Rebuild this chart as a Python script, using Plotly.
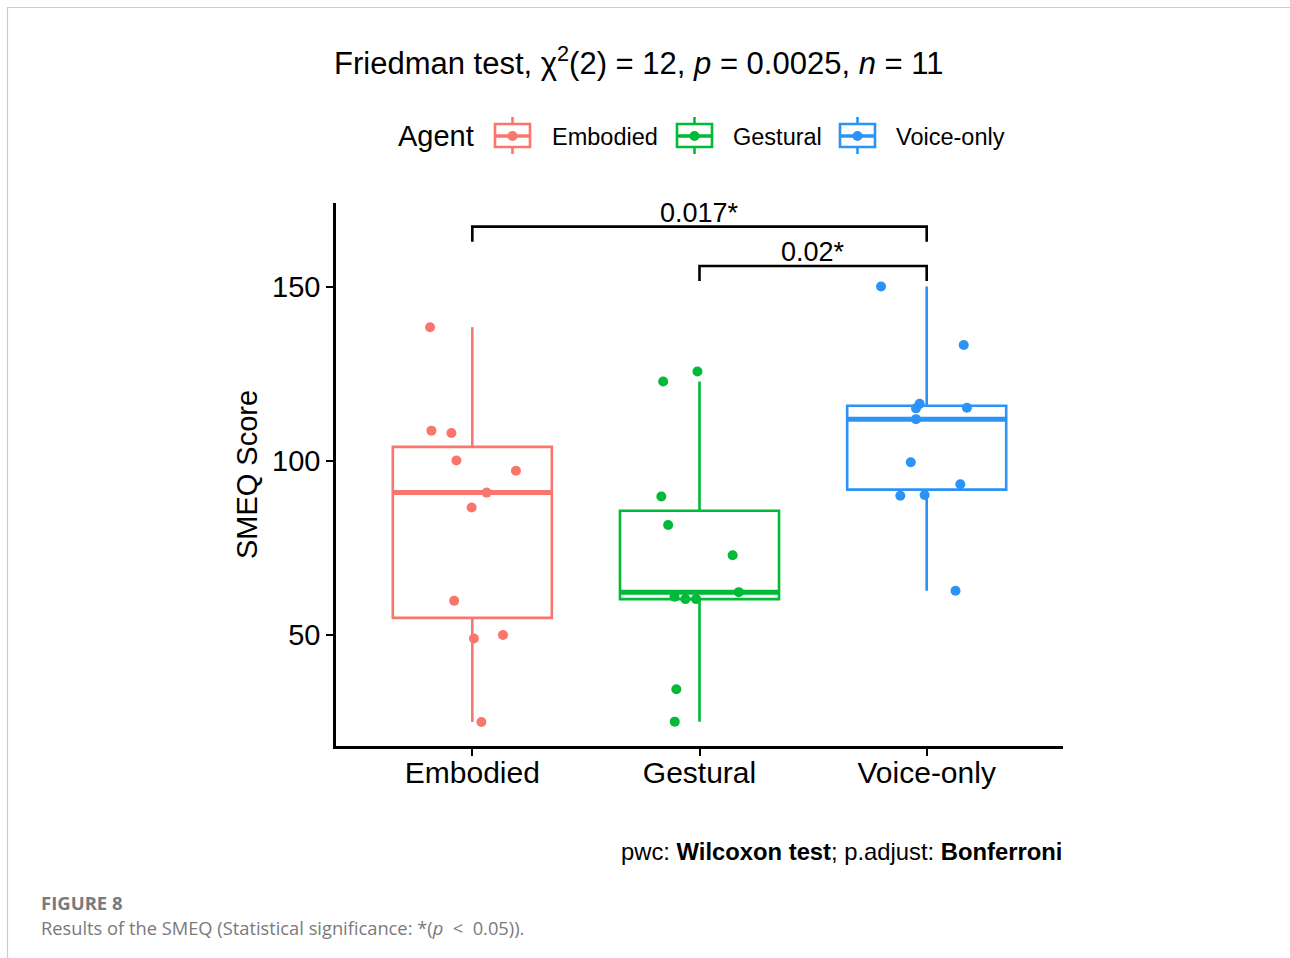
import numpy as np
import plotly.graph_objects as go

# ---------------- data ----------------
categories = ["Embodied", "Gestural", "Voice-only"]
colors = ["#F8766D", "#00BA38", "#2A93F5"]

embodied = [138.4, 108.7, 108.0, 100.1, 97.2, 90.9, 86.6, 59.8, 49.0, 50.0, 25.0]
embodied_jitter = [-0.186, -0.180, -0.092, -0.070, 0.192, 0.063, -0.003, -0.080, 0.007, 0.135, 0.040]

gestural = [125.7, 122.8, 89.8, 81.6, 72.9, 62.3, 61.0, 60.3, 60.3, 34.4, 25.1]
gestural_jitter = [-0.009, -0.160, -0.168, -0.138, 0.146, 0.173, -0.110, -0.062, -0.015, -0.102, -0.109]

voice_only = [150.1, 133.3, 116.4, 115.1, 115.3, 112.0, 99.6, 93.3, 90.0, 90.2, 62.7]
voice_only_jitter = [-0.201, 0.163, -0.031, -0.047, 0.177, -0.047, -0.070, 0.148, -0.116, -0.009, 0.127]

comparisons = [("Embodied", "Voice-only", "0.017*"), ("Gestural", "Voice-only", "0.02*")]
y_ticks = [50, 100, 150]

values = [embodied, gestural, voice_only]
jitters = [embodied_jitter, gestural_jitter, voice_only_jitter]

FONT = "Liberation Sans, Arial, sans-serif"
BOX_W = 0.7
LW = 2.6

L, R, T, B = 336, 227, 203, 212
W, H = 1290, 958
PW, PH = W - L - R, H - T - B


def px(xp):
    return (xp - L) / PW


def py(yp):
    return (H - B - yp) / PH


fig = go.Figure()

for i, (cat, vals, jit, col) in enumerate(zip(categories, values, jitters, colors)):
    pos = i + 1
    v = np.sort(np.asarray(vals, dtype=float))
    q1, med, q3 = np.percentile(v, [25, 50, 75])
    iqr = q3 - q1
    lf = v[v >= q1 - 1.5 * iqr].min()
    uf = v[v <= q3 + 1.5 * iqr].max()
    fig.add_trace(go.Box(
        x=[pos], q1=[q1], median=[med], q3=[q3], lowerfence=[lf], upperfence=[uf],
        name=cat, width=BOX_W, boxpoints=False,
        line=dict(color=col, width=LW), fillcolor="rgba(255,255,255,0)",
        whiskerwidth=0, showlegend=False,
    ))
    fig.add_trace(go.Scatter(
        x=[pos - BOX_W / 2, pos + BOX_W / 2], y=[med, med], mode="lines",
        line=dict(color=col, width=5), showlegend=False, hoverinfo="skip",
    ))
    fig.add_trace(go.Scatter(
        x=[pos + j for j in jit], y=vals, mode="markers", name=cat,
        marker=dict(color=col, size=10), showlegend=False,
    ))

# significance brackets
bracket_levels = [167.3, 156.0]
bracket_drop = 4.3
for (a, b, lab), lvl in zip(comparisons, bracket_levels):
    xa = categories.index(a) + 1
    xb = categories.index(b) + 1
    fig.add_trace(go.Scatter(
        x=[xa, xa, xb, xb], y=[lvl - bracket_drop, lvl, lvl, lvl - bracket_drop],
        mode="lines", line=dict(color="black", width=LW), showlegend=False,
        hoverinfo="skip",
    ))
    fig.add_annotation(x=(xa + xb) / 2, y=lvl, xref="x", yref="y", text=lab,
                       showarrow=False, yanchor="bottom", yshift=-3,
                       font=dict(size=27, color="black", family=FONT))

# ---- custom legend (ggplot style key glyphs) ----
legend_y = 136
fig.add_annotation(xref="paper", yref="paper", x=px(396), y=py(legend_y),
                   xanchor="left", yanchor="middle", text="Agent", showarrow=False,
                   font=dict(size=29, color="black", family=FONT))
glyph_left = [495, 677, 840]
label_left = [550, 731, 894]
for cat, col, gx, lx in zip(categories, colors, glyph_left, label_left):
    gw = 35
    cx = gx + gw / 2
    fig.add_shape(type="line", xref="paper", yref="paper",
                  x0=px(cx), x1=px(cx), y0=py(legend_y - 19), y1=py(legend_y + 18),
                  line=dict(color=col, width=LW))
    fig.add_shape(type="rect", xref="paper", yref="paper",
                  x0=px(gx), x1=px(gx + gw), y0=py(legend_y - 12), y1=py(legend_y + 11),
                  line=dict(color=col, width=LW), fillcolor="white")
    fig.add_shape(type="line", xref="paper", yref="paper",
                  x0=px(gx), x1=px(gx + gw), y0=py(legend_y), y1=py(legend_y),
                  line=dict(color=col, width=LW + 1))
    fig.add_shape(type="circle", xref="paper", yref="paper",
                  x0=px(cx - 5), x1=px(cx + 5), y0=py(legend_y - 5), y1=py(legend_y + 5),
                  line=dict(color=col, width=0), fillcolor=col)
    fig.add_annotation(xref="paper", yref="paper", x=px(lx), y=py(legend_y + 1),
                       xanchor="left", yanchor="middle", text=cat, showarrow=False,
                       font=dict(size=23.5, color="black", family=FONT))

fig.add_annotation(
    xref="paper", yref="paper", x=px(638), y=py(61), xanchor="center", yanchor="middle",
    text="Friedman test, χ<sup>2</sup>(2) = 12, <i>p</i> = 0.0025, <i>n</i> = 11",
    showarrow=False, font=dict(size=31, color="black", family=FONT))

fig.add_annotation(
    xref="paper", yref="paper", x=px(1064), y=py(851), xanchor="right", yanchor="middle",
    text="pwc: <b>Wilcoxon test</b>; p.adjust: <b>Bonferroni</b>",
    showarrow=False, font=dict(size=23.8, color="black", family=FONT))

fig.add_annotation(
    xref="paper", yref="paper", x=px(39), y=py(902), xanchor="left", yanchor="middle",
    text="<b>FIGURE 8</b>", showarrow=False,
    font=dict(size=18.5, color="#7a7a7a", family="Open Sans, sans-serif"))
fig.add_annotation(
    xref="paper", yref="paper", x=px(39), y=py(927), xanchor="left", yanchor="middle",
    text="Results of the SMEQ (Statistical significance: *(<i>p</i> &nbsp;&lt;&nbsp; 0.05)).",
    showarrow=False,
    font=dict(size=18.3, color="#7a7a7a", family="Open Sans, sans-serif"))

# page frame
fig.add_shape(type="rect", xref="paper", yref="paper",
              x0=px(7.5), x1=px(1300), y0=py(970), y1=py(7.5),
              line=dict(color="#cccccc", width=1.2), fillcolor="rgba(0,0,0,0)", layer="below")

fig.update_layout(
    width=W, height=H,
    margin=dict(l=L, r=R, t=T, b=B),
    paper_bgcolor="white", plot_bgcolor="white",
    font=dict(family=FONT, color="black"),
    showlegend=False,
    xaxis=dict(range=[0.4, 3.6], tickvals=[1, 2, 3], ticktext=categories,
               showline=True, linecolor="black", linewidth=LW, ticks="outside",
               ticklen=7, tickwidth=2.4, tickcolor="black", showgrid=False, zeroline=False,
               ticklabelstandoff=-9,
               tickfont=dict(size=30, color="black", family=FONT)),
    yaxis=dict(range=[18.1, 174.1], tickvals=y_ticks,
               showline=True, linecolor="black", linewidth=LW, ticks="outside",
               ticklen=7, tickwidth=2.4, tickcolor="black", showgrid=False, zeroline=False,
               tickfont=dict(size=29, color="black", family=FONT),
               title=dict(text="SMEQ Score", font=dict(size=29, color="black", family=FONT),
                          standoff=6)),
)

fig.write_html("out.html")
